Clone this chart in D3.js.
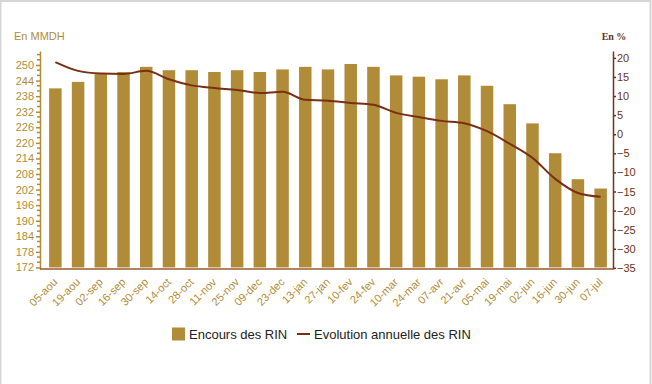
<!DOCTYPE html>
<html>
<head>
<meta charset="utf-8">
<script src="https://cdn.jsdelivr.net/npm/d3@7"></script>
<style>
  body { margin: 0; background: #fff; }
  svg { display: block; font-family: "Liberation Sans", Arial, sans-serif; }
</style>
</head>
<body>
<div id="chart"></div>
<script>
// ---- data ----
const dates = ['05-aou', '19-aou', '02-sep', '16-sep', '30-sep', '14-oct', '28-oct', '11-nov', '25-nov',
  '09-dec', '23-dec', '13-jan', '27-jan', '10-fev', '24-fev', '10-mar', '24-mar', '07-avr', '21-avr',
  '05-mai', '19-mai', '02-jun', '16-jun', '30-jun', '07-jul'];
const encours = [241.0, 243.5, 246.5, 247.3, 249.3, 248.0, 248.0, 247.3, 248.0, 247.3, 248.3, 249.3, 248.3,
  250.4, 249.3, 246.0, 245.5, 244.5, 246.0, 242.0, 234.9, 227.5, 216.0, 206.0, 202.4];
const evolution = [18.9, 16.6, 15.9, 15.8, 16.6, 14.4, 12.8, 12.1, 11.6, 10.8, 11.1, 9.0, 8.8,
  8.2, 7.7, 5.6, 4.5, 3.5, 2.9, 0.8, -2.5, -6.2, -11.7, -15.4, -16.4];
const leftTicks = d3.range(172, 251, 6);
const rightTicks = d3.range(-35, 21, 5);

const GOLD = '#b08c38';
const BROWN = '#7a2e14';

const W = 652, H = 384;
const svg = d3.select('#chart').append('svg')
  .attr('width', W).attr('height', H);

// light frame
svg.append('rect').attr('x', 0.5).attr('y', 1).attr('width', 650).attr('height', H + 5)
  .attr('fill', 'none').attr('stroke', '#d6d6d6').attr('stroke-width', 2);

const plotTop = 51, plotBottom = 269, plotLeft = 40, plotRight = 613;

// ---- scales ----
const x = d3.scaleBand().domain(dates).range([44, 612]).paddingInner(0.45).paddingOuter(0.225);
const yL = d3.scaleLinear().domain([171.4, 255.4]).range([plotBottom, plotTop]);
const yR = d3.scaleLinear().domain([-35.3, 21.8]).range([plotBottom, plotTop]);

// ---- bars ----
svg.append('g').selectAll('rect')
  .data(encours)
  .enter().append('rect')
  .attr('x', (d, i) => x(dates[i]))
  .attr('width', x.bandwidth())
  .attr('y', d => yL(d))
  .attr('height', d => yL(172) - yL(d))
  .attr('fill', GOLD);

// ---- line ----
const line = d3.line()
  .x((d, i) => x(dates[i]) + x.bandwidth() / 2)
  .y(d => yR(d))
  .curve(d3.curveMonotoneX);
svg.append('path').datum(evolution)
  .attr('d', line)
  .attr('fill', 'none')
  .attr('stroke', BROWN)
  .attr('stroke-width', 2);

// ---- left axis ----
const gl = svg.append('g').attr('transform', `translate(${plotLeft},0)`);
gl.call(d3.axisLeft(yL).tickValues(leftTicks).tickSize(4).tickSizeOuter(0).tickPadding(2));
gl.append('g').selectAll('line')
  .data(d3.range(172, 256, 2).filter(v => (v - 172) % 6 !== 0))
  .enter().append('line')
  .attr('x1', -3).attr('x2', 0)
  .attr('y1', d => yL(d)).attr('y2', d => yL(d));
gl.selectAll('path, line').attr('stroke', GOLD).attr('stroke-width', 1.5);
gl.selectAll('text').attr('fill', GOLD).style('font-size', '11px')
  .style('font-family', '"Liberation Sans", Arial, sans-serif');

// ---- right axis ----
const gr = svg.append('g').attr('transform', `translate(${plotRight},0)`);
gr.call(d3.axisRight(yR).tickValues(rightTicks).tickSize(3).tickSizeOuter(0).tickPadding(1));
gr.selectAll('path, line').attr('stroke', BROWN).attr('stroke-width', 1.5);
gr.selectAll('text').attr('fill', '#6a3416').style('font-size', '11px')
  .style('font-family', '"Liberation Sans", Arial, sans-serif');

// ---- bottom axis ----
const gb = svg.append('g').attr('transform', `translate(0,${plotBottom})`);
gb.call(d3.axisBottom(x).tickSize(0).tickPadding(0));
gb.select('.domain').remove();
gb.append('line').attr('x1', plotLeft).attr('x2', plotRight).attr('y1', 0).attr('y2', 0)
  .attr('stroke', '#9a5a2a').attr('stroke-width', 1.5);
gb.selectAll('.tick text')
  .attr('fill', GOLD)
  .style('font-size', '11px')
  .style('font-family', '"Liberation Sans", Arial, sans-serif')
  .attr('text-anchor', 'end')
  .attr('x', 0).attr('y', 0)
  .attr('dy', '0.35em')
  .attr('transform', 'translate(0,11) rotate(-45)');

// ---- unit labels ----
svg.append('text').attr('x', 14).attr('y', 40)
  .attr('fill', GOLD).style('font-size', '11px')
  .text('En MMDH');
svg.append('text').attr('x', 614).attr('y', 40)
  .attr('text-anchor', 'middle')
  .attr('fill', '#6a3416').style('font-size', '10px')
  .style('font-family', '"Liberation Serif", "Times New Roman", serif')
  .style('font-weight', 'bold')
  .text('En %');

// ---- legend ----
const lg = svg.append('g').attr('transform', 'translate(172,334)');
lg.append('rect').attr('x', 0).attr('y', -6.5).attr('width', 13).attr('height', 13).attr('fill', GOLD);
lg.append('text').attr('x', 17).attr('y', 0).attr('dy', '0.35em')
  .attr('fill', '#222').style('font-size', '13px').text('Encours des RIN');
lg.append('line').attr('x1', 125).attr('x2', 138).attr('y1', 0).attr('y2', 0)
  .attr('stroke', BROWN).attr('stroke-width', 2);
lg.append('text').attr('x', 142).attr('y', 0).attr('dy', '0.35em')
  .attr('fill', '#222').style('font-size', '13px').text('Evolution annuelle des RIN');
</script>
</body>
</html>
